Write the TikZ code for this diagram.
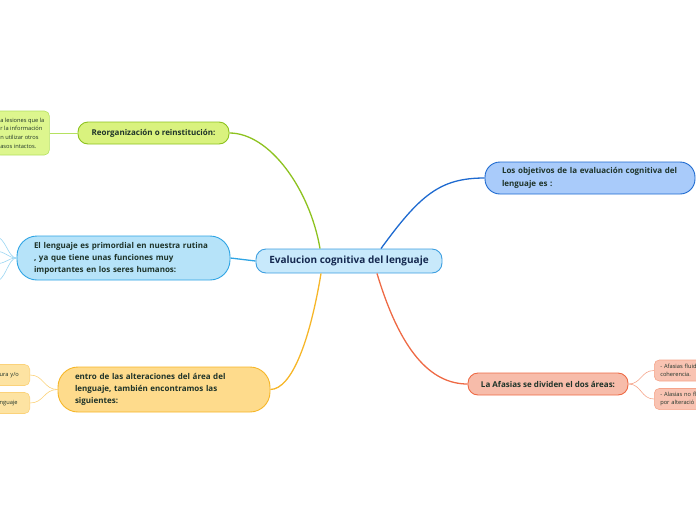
\documentclass[tikz,border=0pt]{standalone}
\usepackage{fontspec}
\setmainfont{Open Sans}
\usetikzlibrary{positioning,calc}
\definecolor{txtdark}{HTML}{1E3329}
\definecolor{txtnavy}{HTML}{14284F}
\definecolor{cenfill}{HTML}{C8E9FB}
\definecolor{cenline}{HTML}{3D9FE0}
\definecolor{grnfill}{HTML}{D9F27E}
\definecolor{grnline}{HTML}{8DC21F}
\definecolor{grnsub}{HTML}{DDF68E}
\definecolor{grnsubline}{HTML}{B5E160}
\definecolor{bluefill}{HTML}{B6E3F9}
\definecolor{blueline}{HTML}{2EA4E4}
\definecolor{bluesub}{HTML}{9AD5F2}
\definecolor{yelfill}{HTML}{FEDB8C}
\definecolor{yelline}{HTML}{F6B628}
\definecolor{yelsub}{HTML}{FDE3A2}
\definecolor{yelsubline}{HTML}{FBD27A}
\definecolor{objfill}{HTML}{A9CBFA}
\definecolor{objline}{HTML}{1E6AD0}
\definecolor{salfill}{HTML}{F7BCAA}
\definecolor{salline}{HTML}{EE6A45}
\definecolor{salsub}{HTML}{F9C3B2}
\definecolor{salsubline}{HTML}{F5A48A}

\begin{document}
\begin{tikzpicture}[x=1pt,y=-1pt,
  topic/.style={draw, line width=0.9pt, rounded corners=10pt, align=left,
    font=\fontsize{8}{12}\selectfont\bfseries, text=txtdark, inner xsep=12pt},
  bigtopic/.style={topic, rounded corners=20pt, inner xsep=17pt},
  leaf/.style={draw, line width=0.6pt, rounded corners=5pt, align=left,
    font=\fontsize{5.7}{8.7}\selectfont, text=txtdark, inner xsep=6pt, minimum height=21pt},
  link/.style={line width=1.3pt},
  twig/.style={line width=0.6pt}
]
  \useasboundingbox (0,0) rectangle (696,520);
  \clip (0,0) rectangle (696,520);

  % centre
  \node[topic, fill=cenfill, draw=cenline, text=txtnavy, font=\fontsize{10}{12}\selectfont\bfseries,
    minimum width=186pt, minimum height=24pt] (eval) at (349,261) {Evalucion cognitiva del lenguaje};

  % left side
  \node[topic, fill=grnfill, draw=grnline, minimum width=151pt, minimum height=22pt]
    (reorg) at (153.5,133) {Reorganización o reinstitución:};
  \node[leaf, fill=grnsub, draw=grnsubline, anchor=west, inner xsep=5pt, minimum height=44pt]
    (reorgsub) at (-5,133) {a lesiones que la\\r la información\\n utilizar otros\\asos intactos.};

  \node[bigtopic, fill=bluefill, draw=blueline, text width=179pt, minimum height=44pt]
    (rutina) at (123.5,258) {El lenguaje es primordial en nuestra rutina\\, ya que tiene unas funciones muy\\importantes en los seres humanos:};
  \coordinate (b1) at (-6,236);
  \coordinate (b2) at (-6,251);
  \coordinate (b3) at (-6,264);
  \coordinate (b4) at (-6,282);

  \node[bigtopic, fill=yelfill, draw=yelline, text width=178pt, minimum height=45pt]
    (alter) at (164,389.5) {entro de las alteraciones del área del\\lenguaje, también encontramos las\\siguientes:};
  \node[leaf, fill=yelsub, draw=yelsubline, anchor=east, text width=24pt] (alter1) at (30,375) {ura y/o};
  \node[leaf, fill=yelsub, draw=yelsubline, anchor=east, text width=24pt] (alter2) at (30,403) {nguaje};

  % right side
  \node[bigtopic, fill=objfill, draw=objline, rounded corners=15pt, text width=176pt, minimum height=32pt,
    font=\fontsize{8}{13}\selectfont\bfseries] (obj) at (590,178) {Los objetivos de la evaluación cognitiva del\\lenguaje es :};

  \node[topic, fill=salfill, draw=salline, minimum width=160pt, minimum height=22pt]
    (afasia) at (548,384) {La Afasias se dividen el dos áreas:};
  \node[leaf, fill=salsub, draw=salsubline, anchor=west, text width=60pt] (afasia1) at (654,370.5) {- Afasias fluid\\coherencia.};
  \node[leaf, fill=salsub, draw=salsubline, anchor=west, text width=60pt] (afasia2) at (654,399) {- Alasias no fl\\por alteració};

  % connectors
  \draw[link, grnline] ([xshift=-29pt]eval.north) .. controls (310,190) and (270,133) .. (reorg.east);
  \draw[link, blueline] (rutina.east) -- (eval.west);
  \draw[link, yelline] ([xshift=-28pt]eval.south) .. controls (310,340) and (292,389) .. (alter.east);
  \draw[link, objline] ([xshift=32pt]eval.north) .. controls (420,195) and (440,178) .. (obj.west);
  \draw[link, salline] ([xshift=28pt]eval.south) .. controls (400,350) and (430,384) .. (afasia.west);

  \draw[twig, grnsubline] (reorgsub.east) -- (reorg.west);
  \foreach \b in {b1,b2,b3,b4}
    \draw[twig, bluesub] (rutina.west) .. controls ++(-9,0) and ($(\b)+(12,0)$) .. (\b);
  \draw[twig, yelsubline] (alter.west) .. controls ++(-14,0) and ++(14,0) .. (alter1.east);
  \draw[twig, yelsubline] (alter.west) .. controls ++(-14,0) and ++(14,0) .. (alter2.east);
  \draw[twig, salsubline] (afasia.east) .. controls ++(13,0) and ++(-13,0) .. (afasia1.west);
  \draw[twig, salsubline] (afasia.east) .. controls ++(13,0) and ++(-13,0) .. (afasia2.west);
\end{tikzpicture}
\end{document}
